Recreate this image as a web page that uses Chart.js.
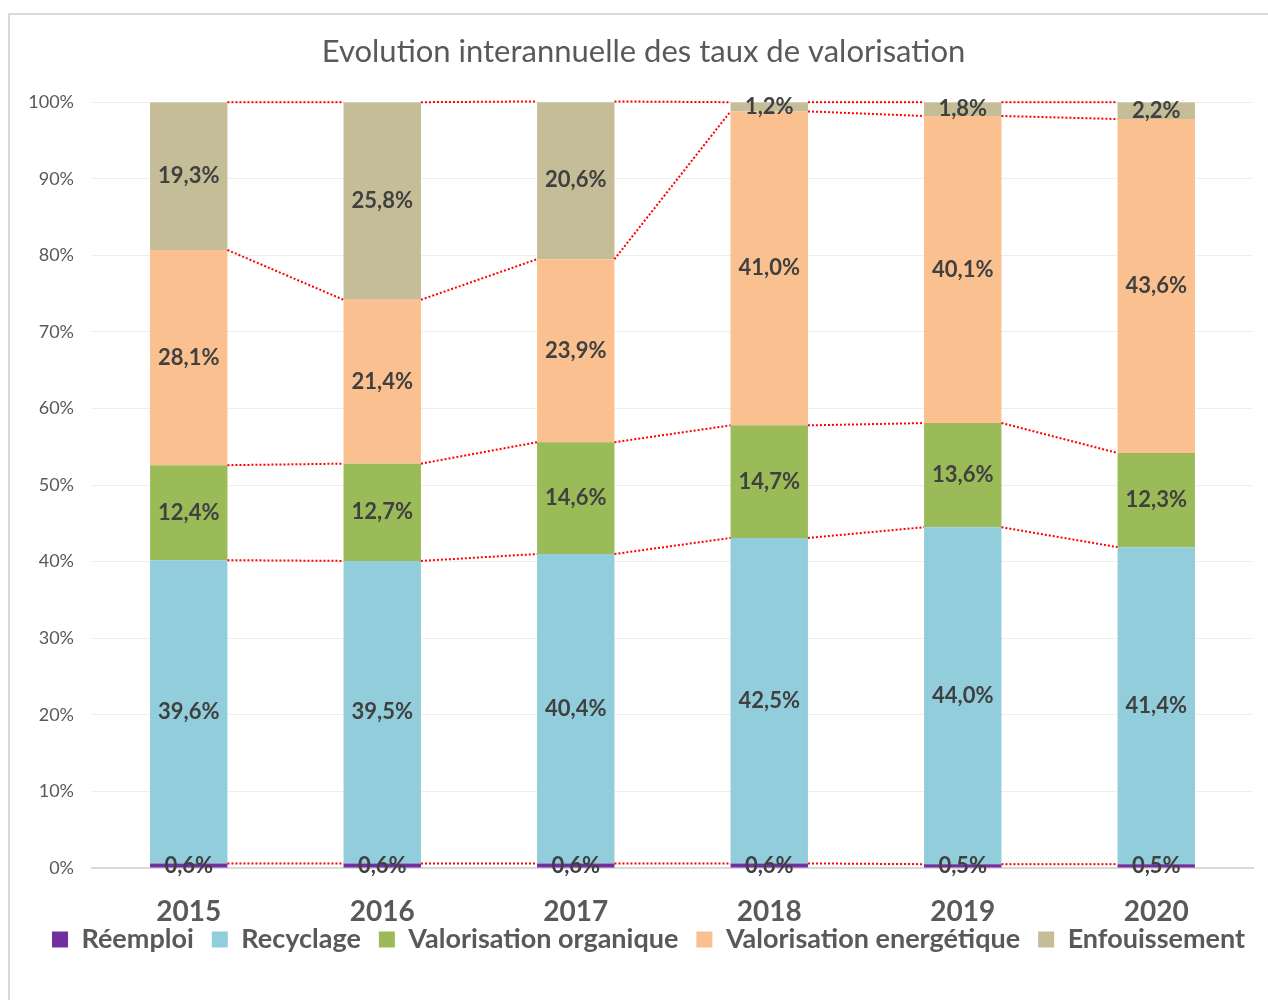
<!DOCTYPE html>
<html>
<head>
<meta charset="utf-8">
<script src="https://cdn.jsdelivr.net/npm/chart.js@4"></script>
<style>
  body { margin: 0; background: #fff; overflow: hidden; }
  #wrap { position: absolute; left: 8px; top: 13px; width: 1270px; height: 1000px; border: 2px solid #d9d9d9; box-sizing: border-box; }
</style>
</head>
<body>
<div id="wrap"><canvas id="graph"></canvas></div>
<script>
const years = ["2015", "2016", "2017", "2018", "2019", "2020"];
const reemploi = [0.6, 0.6, 0.6, 0.6, 0.5, 0.5];
const recyclage = [39.6, 39.5, 40.4, 42.5, 44.0, 41.4];
const organique = [12.4, 12.7, 14.6, 14.7, 13.6, 12.3];
const energetique = [28.1, 21.4, 23.9, 41.0, 40.1, 43.6];
const enfouissement = [19.3, 25.8, 20.6, 1.2, 1.8, 2.2];
const yTicks = [0, 10, 20, 30, 40, 50, 60, 70, 80, 90, 100];

const FONT = "Lato";
const grey = "#595959";

// red dotted lines joining the top of each segment from one bar to the next
const seriesLines = {
  id: "seriesLines",
  afterDatasetsDraw(chart) {
    const ctx = chart.ctx;
    ctx.save();
    ctx.strokeStyle = "#ff0000";
    ctx.lineWidth = 2;
    ctx.setLineDash([2, 2]);
    chart.data.datasets.forEach((ds, d) => {
      const bars = chart.getDatasetMeta(d).data;
      for (let i = 0; i < bars.length - 1; i++) {
        const a = bars[i], b = bars[i + 1];
        ctx.beginPath();
        ctx.moveTo(a.x + a.width / 2, a.y);
        ctx.lineTo(b.x - b.width / 2, b.y);
        ctx.stroke();
      }
    });
    ctx.restore();
  }
};

// value labels in the middle of each segment
const segLabels = {
  id: "segLabels",
  afterDatasetsDraw(chart) {
    const ctx = chart.ctx;
    ctx.save();
    ctx.font = "bold 22px " + FONT;
    ctx.fillStyle = "#404040";
    ctx.textAlign = "center";
    ctx.textBaseline = "middle";
    chart.data.datasets.forEach((ds, d) => {
      chart.getDatasetMeta(d).data.forEach((bar, i) => {
        const txt = ds.data[i].toFixed(1).replace(".", ",") + "%";
        ctx.fillText(txt, bar.x, (bar.y + bar.base) / 2);
      });
    });
    ctx.restore();
  }
};

// year labels may overlap the legend a little, and title/legend sit a bit right, like in Excel
const layoutTweaks = {
  id: "layoutTweaks",
  afterLayout(chart) {
    chart.scales.x.bottom = chart.height;
    chart.titleBlock.left += 12;
    chart.titleBlock.right += 12;
    chart.legend.left += 17;
    chart.legend.right += 17;
  }
};

let graph = document.getElementById("graph").getContext("2d");
let tauxChart = new Chart(graph, {
  type: "bar",
  data: {
    labels: years,
    datasets: [
      { label: "Réemploi", data: reemploi, backgroundColor: "#7030a0" },
      { label: "Recyclage", data: recyclage, backgroundColor: "#92cddc" },
      { label: "Valorisation organique", data: organique, backgroundColor: "#9bbb59" },
      { label: "Valorisation energétique", data: energetique, backgroundColor: "#fac090" },
      { label: "Enfouissement", data: enfouissement, backgroundColor: "#c4bd97" },
    ],
  },
  options: {
    responsive: true,
    maintainAspectRatio: false,
    animation: false,
    datasets: { bar: { barPercentage: 0.4, categoryPercentage: 1, borderWidth: 0 } },
    layout: { padding: { left: 0, right: 23, bottom: 48 } },
    scales: {
      x: {
        stacked: true,
        grid: { display: false },
        border: { color: "#d9d9d9", width: 2 },
        ticks: { color: grey, padding: 22, font: { family: FONT, size: 28, weight: "bold", lineHeight: 1 } },
        afterFit(scale) { scale.height = 40; },
      },
      y: {
        stacked: true,
        min: 0,
        max: 100,
        afterBuildTicks(scale) { scale.ticks = yTicks.map(v => ({ value: v })); },
        grid: { color: "#f0eee9", drawTicks: false },
        border: { display: false },
        ticks: {
          color: grey,
          padding: 18,
          font: { family: FONT, size: 18 },
          callback: v => v + "%",
        },
        afterFit(scale) { scale.width = 82; },
      },
    },
    plugins: {
      title: {
        display: true,
        text: "Evolution interannuelle des taux de valorisation",
        color: grey,
        font: { family: FONT, size: 31, weight: "normal" },
        padding: { top: 18, bottom: 32 },
      },
      legend: {
        position: "bottom",
        labels: {
          color: grey,
          boxWidth: 16,
          boxHeight: 16,
          padding: 18,
          font: { family: FONT, size: 27, weight: "bold" },
        },
      },
      tooltip: { enabled: false },
    },
  },
  plugins: [seriesLines, segLabels, layoutTweaks],
});
</script>
</body>
</html>
